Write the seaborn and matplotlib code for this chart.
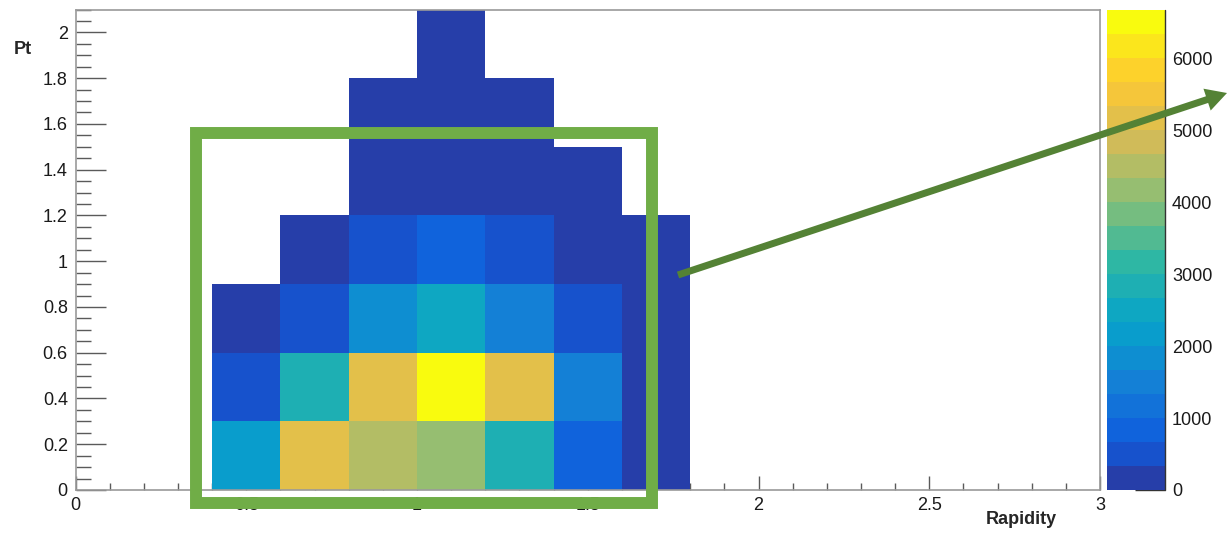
import numpy as np
import pandas as pd
import matplotlib
matplotlib.use("Agg")
import matplotlib.pyplot as plt
import seaborn as sns
from matplotlib.colors import ListedColormap
from matplotlib.patches import Rectangle, FancyArrow
from matplotlib.ticker import MultipleLocator, FuncFormatter

# ---- histogram content -------------------------------------------------
rapidity_edges = [0.4, 0.6, 0.8, 1.0, 1.2, 1.4, 1.6, 1.8]
pt_edges = [0.0, 0.3, 0.6, 0.9, 1.2, 1.5, 1.8, 2.1]

# entries per cell: one row per Pt bin (bottom to top),
# one column per rapidity bin (left to right)
counts = [
    [2170, 5180, 4510, 4175, 2840,  835, 260],
    [ 500, 2840, 5180, 6680, 5180, 1500, 200],
    [ 150,  500, 1840, 2500, 1500,  500, 150],
    [   0,  120,  500,  835,  500,  200,  90],
    [   0,    0,  200,  250,  180,   60,   0],
    [   0,    0,   60,   90,   50,    0,   0],
    [   0,    0,    0,   30,    0,    0,   0],
]

x_ticks = [0, 0.5, 1, 1.5, 2, 2.5, 3]
y_ticks = [0, 0.2, 0.4, 0.6, 0.8, 1.0, 1.2, 1.4, 1.6, 1.8, 2.0]
z_ticks = [0, 1000, 2000, 3000, 4000, 5000, 6000]

# long-form table of filled cells
rows = []
for i, pt_row in enumerate(counts):
    for j, n in enumerate(pt_row):
        if n > 0:
            rows.append({
                "rapidity": 0.5 * (rapidity_edges[j] + rapidity_edges[j + 1]),
                "pt": 0.5 * (pt_edges[i] + pt_edges[i + 1]),
                "count": n,
            })
df = pd.DataFrame(rows)
zmax = max(max(r) for r in counts)

# ---- "bird" palette sampled into 20 contour levels --------------------
stops = [0.0, 0.125, 0.25, 0.375, 0.5, 0.625, 0.75, 0.875, 1.0]
red = [0.2082, 0.0592, 0.0780, 0.0232, 0.1802, 0.5301, 0.8186, 0.9956, 0.9764]
green = [0.1664, 0.3599, 0.5041, 0.6419, 0.7178, 0.7492, 0.7328, 0.7862, 0.9832]
blue = [0.5293, 0.8684, 0.8385, 0.7914, 0.6425, 0.4662, 0.3499, 0.1968, 0.0539]
n_levels = 20
frac = (np.arange(n_levels) + 0.99) / n_levels
level_colors = np.column_stack([np.interp(frac, stops, c) for c in (red, green, blue)])
bird = ListedColormap(level_colors, name="bird20")

# ---- figure -----------------------------------------------------------
sns.set_theme(style="white")
plt.rcParams["font.family"] = ["Liberation Sans", "DejaVu Sans"]
plt.rcParams["text.color"] = "#1a1a1a"
plt.rcParams["xtick.color"] = "#1a1a1a"
plt.rcParams["ytick.color"] = "#1a1a1a"

W, H = 1229, 533
fig = plt.figure(figsize=(W / 100, H / 100), dpi=100)
fig.patch.set_facecolor("white")

ax = fig.add_axes([75.5 / W, 43 / H, 1024.5 / W, 480.5 / H])
cax = fig.add_axes([1106.5 / W, 43 / H, 58.5 / W, 480.5 / H])

sns.histplot(
    data=df, x="rapidity", y="pt", weights="count",
    bins=[rapidity_edges, pt_edges],
    cmap=bird, vmin=0, vmax=zmax,
    cbar=True, cbar_ax=cax, ax=ax,
)

ax.set_xlim(0, 3)
ax.set_ylim(0, 2.1)
ax.set_facecolor("white")

fmt = FuncFormatter(lambda v, p: f"{v:g}")
ax.xaxis.set_major_locator(matplotlib.ticker.FixedLocator(x_ticks))
ax.yaxis.set_major_locator(matplotlib.ticker.FixedLocator(y_ticks))
ax.xaxis.set_major_formatter(fmt)
ax.yaxis.set_major_formatter(fmt)
ax.xaxis.set_minor_locator(MultipleLocator(0.1))
ax.yaxis.set_minor_locator(MultipleLocator(0.05))

tick_col = "#5a5a5a"
ax.tick_params(axis="x", which="major", direction="in", length=10, width=1,
               color=tick_col, labelsize=13, pad=5, bottom=True, top=False)
ax.tick_params(axis="x", which="minor", direction="in", length=5, width=1,
               color=tick_col, bottom=True, top=False)
ax.tick_params(axis="y", which="major", direction="in", length=21.5, width=1,
               color=tick_col, labelsize=13, pad=5.5, left=True, right=False)
ax.tick_params(axis="y", which="minor", direction="in", length=10.5, width=1,
               color=tick_col, left=True, right=False)
for s in ax.spines.values():
    s.set_visible(True)
    s.set_color("#9a9a9a")
    s.set_linewidth(1.2)
ax.grid(False)

ax.set_xlabel("Rapidity", fontsize=13, fontweight="bold")
ax.xaxis.set_label_coords((1057 - 75.5) / 1024.5, (490 - 519) / 480.5)
ax.xaxis.label.set_ha("right")
ax.xaxis.label.set_va("center")
ax.set_ylabel("Pt", fontsize=13, fontweight="bold", rotation=0)
ax.yaxis.set_label_coords((23 - 75.5) / 1024.5, (490 - 50) / 480.5)
ax.yaxis.label.set_ha("center")
ax.yaxis.label.set_va("center")

# colour scale
cbar = ax.collections[0].colorbar
cbar.set_ticks(z_ticks)
cbar.minorticks_off()
cbar.outline.set_visible(False)
cax.tick_params(axis="y", which="major", direction="in", length=21.5, width=1,
                color="#333333", labelsize=13, pad=5, right=True, left=False)
cax.plot([1, 1], [0, 1], transform=cax.transAxes, color="#333333", lw=1,
         clip_on=False)

# highlight box and pointer
green_box = Rectangle((195.5 / 100, 30 / 100), 456.5 / 100, 370 / 100,
                      transform=fig.dpi_scale_trans, fill=False,
                      edgecolor="#70AD47", linewidth=8.6, zorder=10)
fig.add_artist(green_box)

pointer = FancyArrow(6.78, 2.58, 12.27 - 6.78, 4.40 - 2.58,
                     width=0.07, head_width=0.23, head_length=0.21,
                     length_includes_head=True, transform=fig.dpi_scale_trans,
                     color="#548235", linewidth=0, zorder=11)
fig.add_artist(pointer)

fig.savefig("out.png", dpi=100, facecolor="white")
